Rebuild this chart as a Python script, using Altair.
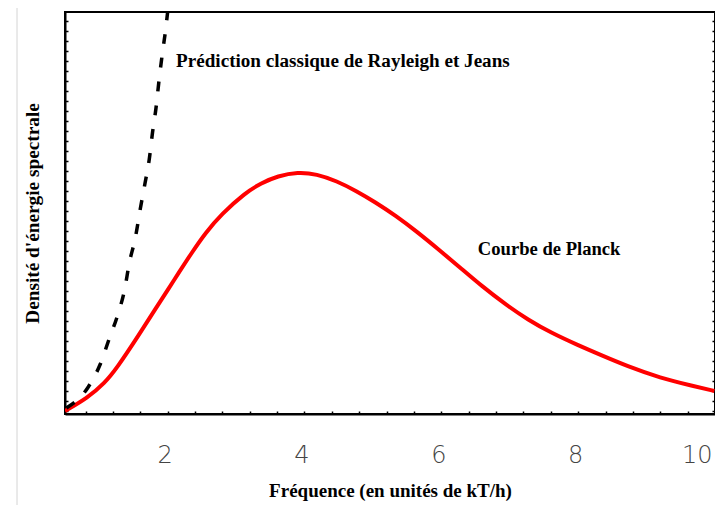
import altair as alt
import pandas as pd

# ---- data ----
planck_x = [0.50, 0.83, 1.08, 1.25, 1.58, 1.83, 2.02, 2.16, 2.35, 2.55, 2.79, 3.13, 3.37,
            3.61, 3.90, 4.18, 4.47, 4.76, 5.03, 5.34, 5.63, 5.97, 6.30, 6.59, 6.93, 7.27,
            7.61, 7.99, 8.33, 8.71, 9.20, 9.68, 9.99]
planck_y = [0.0, 1.3, 2.8, 4.2, 7.6, 10.3, 12.3, 13.8, 15.8, 17.8, 19.7, 21.8, 22.8,
            23.5, 23.9, 23.7, 23.0, 22.0, 20.9, 19.5, 18.0, 16.1, 14.2, 12.5, 10.7, 9.1,
            7.8, 6.6, 5.6, 4.5, 3.3, 2.5, 2.0]

rj_x = [0.52, 0.84, 1.01, 1.15, 1.27, 1.37, 1.44, 1.53, 1.60, 1.67, 1.73, 1.78, 1.83,
        1.87, 1.92, 1.97, 2.00]
rj_y = [0.3, 2.4, 4.6, 7.3, 9.6, 12.1, 14.8, 17.4, 20.2, 22.8, 25.1, 27.9, 30.3,
        32.8, 35.6, 38.1, 39.9]

x_ticks = [0.8, 1.2, 1.6, 2.0, 2.4, 2.8, 3.2, 3.6, 4.0, 4.4, 4.8, 5.2, 5.6, 6.0, 6.4,
           6.8, 7.2, 7.6, 8.0, 8.4, 8.8, 9.2, 9.6, 10.0]
x_labels = ["2", "4", "6", "8", "10"]
y_ticks = [0, 1, 2, 3, 4, 5, 6, 7, 8, 9, 10, 11, 12, 13, 14, 15, 16, 17, 18, 19, 20,
           21, 22, 23, 24, 25, 26, 27, 28, 29, 30, 31, 32, 33, 34, 35, 36, 37, 38, 39]

note_text = ["Prédiction classique de Rayleigh et Jeans", "Courbe de Planck"]
note_x = [2.124, 6.534]
note_y = [34.4, 15.6]
note_size = [19.1, 18.6]

x_domain = [0.5, 10.0]
y_domain = [-0.3, 39.9]

planck = pd.DataFrame({"x": planck_x, "y": planck_y})
rj = pd.DataFrame({"x": rj_x, "y": rj_y})
notes = pd.DataFrame({"x": note_x, "y": note_y, "t": note_text, "s": note_size})

label_test = "indexof([" + ",".join("'%s'" % s for s in x_labels) + "], datum.label) >= 0 ? datum.label : ''"

x_axis = alt.Axis(
    values=x_ticks, format="~g", labelExpr=label_test,
    title="Fréquence (en unités de kT/h)",
    titleFont="Liberation Serif", titleFontWeight="bold", titleFontSize=19,
    titleColor="black", titlePadding=14,
    labelFont="DejaVu Sans", labelFontWeight=200, labelFontSize=24, labelColor="#444444",
    labelPadding=32, labelFlush=True, labelOffset=-3, labelOverlap=False,
    tickSize={"expr": "-3"}, grid=False,
)
x_enc = alt.X("x:Q", scale=alt.Scale(domain=x_domain, nice=False, zero=False), axis=x_axis)
y_scale = alt.Scale(domain=y_domain, nice=False, zero=False)

left_axis = alt.Axis(
    values=y_ticks, labels=False, tickSize={"expr": "-3"}, grid=False,
    title="Densité d'énergie spectrale",
    titleFont="Liberation Serif", titleFontWeight="bold", titleFontSize=19.3,
    titleColor="black", titlePadding=22,
)
right_axis = alt.Axis(
    orient="right", values=y_ticks, labels=False, tickSize={"expr": "-3"},
    grid=False, title=None,
)

planck_line = alt.Chart(planck).mark_line(
    color="#ff0000", strokeWidth=4, interpolate="basis", clip=True
).encode(x=x_enc, y=alt.Y("y:Q", scale=y_scale, axis=left_axis))

rj_line = alt.Chart(rj).mark_line(
    color="black", strokeWidth=3.5, strokeDash=[10, 14], interpolate="monotone", clip=True
).encode(x=x_enc, y=alt.Y("y:Q", scale=y_scale, axis=right_axis))

texts = alt.Chart(notes).mark_text(
    align="left", baseline="alphabetic", font="Liberation Serif",
    fontWeight="bold", color="black"
).encode(
    x=x_enc, y=alt.Y("y:Q", scale=y_scale, axis=None), text="t:N",
    size=alt.Size("s:Q", scale=None, legend=None),
)

edge = alt.Chart(notes).mark_rule(color="#d4d4d4", strokeWidth=1).encode(
    x=alt.value(-48), y=alt.value(-12), y2=alt.value(493)
).transform_filter("datum.t == 'Courbe de Planck'")

chart = alt.layer(edge, planck_line, rj_line, texts).resolve_axis(
    y="independent"
).properties(
    width=650, height=402,
    autosize=alt.AutoSizeParams(type="none"),
    padding={"left": 57, "top": 4, "right": 0, "bottom": 91},
    background="white",
).configure_view(
    stroke="black", strokeWidth=2
).configure_axis(
    domainColor="black", domainWidth=2, tickColor="black", tickWidth=1.5
)

chart.save("out.html", embed_options={"renderer": "svg", "actions": False})
